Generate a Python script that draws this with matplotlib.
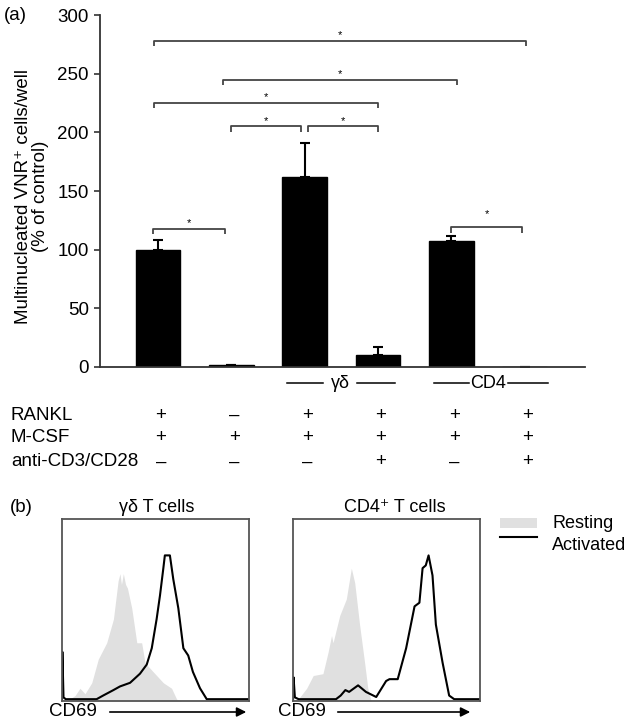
import matplotlib
matplotlib.use("Agg")
import matplotlib.pyplot as plt
from matplotlib.patches import Rectangle
from matplotlib.lines import Line2D
from matplotlib.transforms import blended_transform_factory

plt.rcParams['font.family'] = ['Liberation Sans', 'DejaVu Sans']

# ---------------- data: panel (a) ----------------
conditions = ['RANKL', 'M-CSF', 'anti-CD3/CD28']
bar_values = [100, 1.5, 162, 10, 107, 0]
bar_err_up = [8, 0, 29, 7, 5, 0]
rankl = ['+', '–', '+', '+', '+', '+']
mcsf = ['+', '+', '+', '+', '+', '+']
anti_cd3 = ['–', '–', '–', '+', '–', '+']
yticks = [0, 50, 100, 150, 200, 250, 300]
# significance brackets: (left position, right position, height)
brackets_left = [-0.05, 0.89, -0.05, 1.0, 2.04, -0.07, 4.0]
brackets_right = [5.01, 4.07, 3.0, 1.95, 3.0, 0.91, 4.96]
brackets_y = [278, 245, 225, 205, 205, 118, 119]
groups = ['γδ', 'CD4']

# ---------------- data: panel (b) histograms (channel 0-1000, % of max count) ----------------
gd_rest_x = [0, 40, 70, 96, 123, 159, 194, 239, 275, 300, 310, 318, 328, 340, 350, 373, 400, 426, 444, 488, 542, 586, 613, 640, 1000]
gd_rest_y = [0, 1, 3, 7, 4, 10, 23, 32, 45, 66, 70, 64, 70, 64, 62, 51, 32, 32, 21, 16, 10, 7, 1, 0, 0]
gd_act_x = [0, 2, 8, 20, 185, 220, 275, 310, 364, 417, 453, 480, 506, 524, 542, 550, 577, 595, 622, 649, 675, 700, 738, 774, 1000]
gd_act_y = [0, 27, 2, 1, 1, 3, 6, 8, 10, 15, 20, 29, 45, 58, 73, 80, 80, 67, 51, 29, 25, 16, 7, 1, 1]
cd4_rest_x = [0, 28, 73, 108, 160, 188, 206, 214, 250, 285, 312, 330, 356, 383, 400, 418, 1000]
cd4_rest_y = [0, 1, 7, 14, 15, 27, 36, 32, 47, 56, 73, 65, 42, 21, 7, 0, 0]
cd4_act_x = [0, 3, 10, 30, 230, 255, 280, 300, 348, 390, 445, 498, 516, 560, 605, 650, 676, 693, 710, 725, 746, 764, 800, 835, 862, 1000]
cd4_act_y = [0, 13, 2, 1, 1, 3, 6, 5, 8.6, 5, 2.2, 11, 12, 12, 29, 52, 54, 73, 74.5, 80, 69, 42, 21, 3, 1, 1]
hist_titles = ['γδ T cells', 'CD4⁺ T cells']
legend_labels = ['Resting', 'Activated']

W, H = 630, 724
def fx(x):
    return x / W
def fy(y):
    return 1 - y / H

fig = plt.figure(figsize=(W / 100, H / 100), dpi=100)
FS = 13.5

# ---------------- panel (a) ----------------
ax = fig.add_axes([fx(100), fy(367), 485 / W, 352 / H])
pos = list(range(len(bar_values)))
ax.bar(pos, bar_values, width=0.61, color='black', edgecolor='black',
       yerr=[[0] * len(bar_values), bar_err_up],
       error_kw=dict(ecolor='black', elinewidth=1.5, capsize=3.6, capthick=1.5))
ax.set_xlim(-0.79, 5.82)
ax.set_ylim(0, 300)
ax.set_yticks(yticks)
ax.set_yticklabels([str(t) for t in yticks], fontsize=FS)
ax.set_xticks([])
for s in ['top', 'right']:
    ax.spines[s].set_visible(False)
for s in ['left', 'bottom']:
    ax.spines[s].set_linewidth(1.3)
    ax.spines[s].set_color('#333333')
ax.tick_params(axis='y', length=4, width=1.2, pad=4, color='#333333')

star_off = [5, 5, 5, 5, 5, 5, 11]
for l, r, y, so in zip(brackets_left, brackets_right, brackets_y, star_off):
    ax.plot([l, l, r, r], [y - 4.5, y, y, y - 4.5], color='#444444', lw=1.3,
            solid_capstyle='butt', clip_on=False)
    ax.text((l + r) / 2, y + so, '*', ha='center', va='center', fontsize=8)

fig.text(fx(4), fy(15), '(a)', fontsize=FS, ha='left', va='center')
fig.text(fx(32), fy(196), 'Multinucleated VNR⁺ cells/well\n(% of control)',
         rotation=90, ha='center', va='center', fontsize=FS, linespacing=1.05)

# group labels under bars
tb = blended_transform_factory(ax.transData, fig.transFigure)
gy = fy(383)
ax.add_line(Line2D([1.76, 2.25], [gy, gy], transform=tb, color='black', lw=1.1, clip_on=False))
ax.add_line(Line2D([2.71, 3.23], [gy, gy], transform=tb, color='black', lw=1.1, clip_on=False))
ax.text(2.49, gy, groups[0], transform=tb, ha='center', va='center', fontsize=13)
ax.add_line(Line2D([3.76, 4.24], [gy, gy], transform=tb, color='black', lw=1.1, clip_on=False))
ax.add_line(Line2D([4.77, 5.31], [gy, gy], transform=tb, color='black', lw=1.1, clip_on=False))
ax.text(4.5, gy, groups[1], transform=tb, ha='center', va='center', fontsize=13)

# condition table
row_y = [415, 438, 462]
for lab, signs, yy in zip(conditions, [rankl, mcsf, anti_cd3], row_y):
    fig.text(fx(11), fy(yy), lab, ha='left', va='center', fontsize=FS)
    for p, sgn in zip(pos, signs):
        ax.text(p + 0.04, fy(yy), sgn, transform=tb, ha='center', va='center', fontsize=FS)

# ---------------- panel (b) ----------------
fig.text(fx(10), fy(507), '(b)', fontsize=FS, ha='left', va='center')
hists = [(gd_rest_x, gd_rest_y, gd_act_x, gd_act_y), (cd4_rest_x, cd4_rest_y, cd4_act_x, cd4_act_y)]
box_left = [62, 293]
title_x = [157, 395]
cd69_x = [49, 278]
arrow_x = [(107, 249), (335, 473)]
for i, (rx, ry, axx, ayy) in enumerate(hists):
    hx = fig.add_axes([fx(box_left[i]), fy(701), 187 / W, 182 / H])
    hx.fill_between(rx, 0, ry, color='#e0e0e0', lw=0)
    hx.plot(axx, ayy, color='black', lw=1.5)
    hx.set_xlim(0, 1000)
    hx.set_ylim(0, 100)
    hx.set_xticks([])
    hx.set_yticks([])
    for s in hx.spines.values():
        s.set_color('#555555')
        s.set_linewidth(1.3)
    fig.text(fx(title_x[i]), fy(507), hist_titles[i], ha='center', va='center', fontsize=13)
    fig.text(fx(cd69_x[i]), fy(712), 'CD69', ha='left', va='center', fontsize=FS)
    a0, a1 = arrow_x[i]
    fig.add_artist(matplotlib.patches.FancyArrowPatch(
        (fx(a0), fy(712)), (fx(a1), fy(712)), transform=fig.transFigure,
        arrowstyle='-|>', mutation_scale=14, color='black', lw=1.2))

# legend
fig.add_artist(Rectangle((fx(500), fy(528)), 37 / W, 10 / H, transform=fig.transFigure,
                         facecolor='#e0e0e0', edgecolor='none'))
fig.add_artist(Line2D([fx(500), fx(537)], [fy(537), fy(537)], transform=fig.transFigure,
                      color='black', lw=1.5))
fig.text(fx(552), fy(523), legend_labels[0], ha='left', va='center', fontsize=13)
fig.text(fx(552), fy(546), legend_labels[1], ha='left', va='center', fontsize=13)

fig.savefig('out.png', dpi=100)
